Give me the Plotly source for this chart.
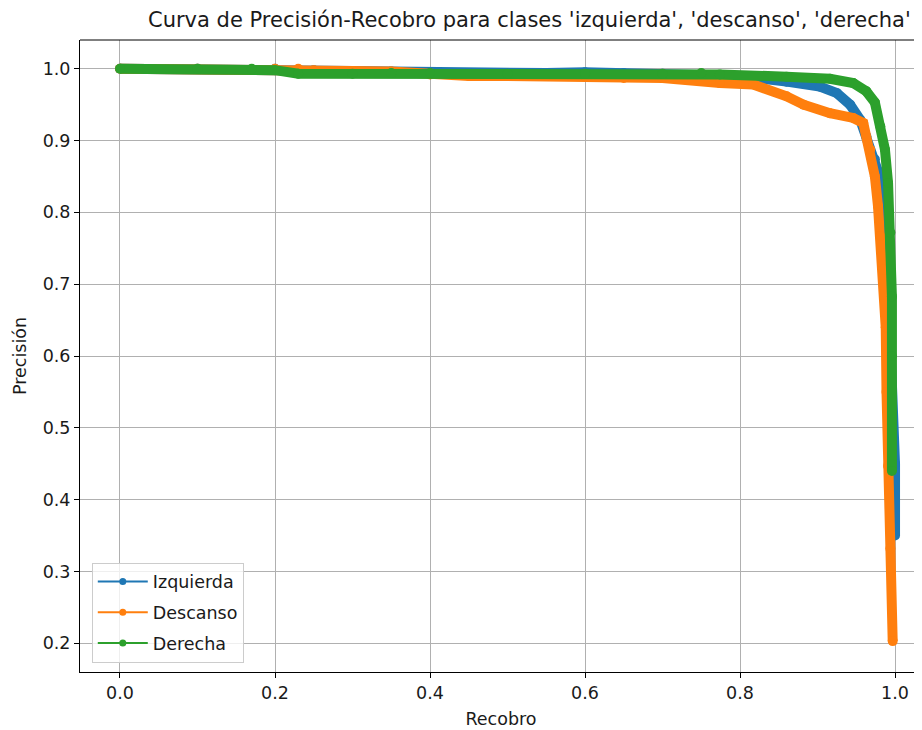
import plotly.graph_objects as go

# Izquierda (blue)
rec_izq = [0, 0.1, 0.2, 0.25, 0.3, 0.35, 0.4, 0.45, 0.5, 0.55, 0.6, 0.65, 0.7, 0.75, 0.8,
           0.86, 0.903, 0.925, 0.942, 0.955, 0.963, 0.974, 0.978, 0.988, 0.993, 0.997,
           1.0, 1.0]
prec_izq = [1.0, 1.0, 1.0, 0.998, 0.997, 0.996, 0.995, 0.994, 0.994, 0.994, 0.995, 0.994, 0.993,
            0.992, 0.99, 0.982, 0.975, 0.966, 0.95, 0.929, 0.906, 0.874, 0.857, 0.78, 0.65,
            0.50, 0.45, 0.35]

# Descanso (orange)
rec_des = [0, 0.1, 0.2, 0.23, 0.25, 0.3, 0.35, 0.4, 0.45, 0.5, 0.55, 0.6, 0.65, 0.7, 0.774,
           0.817, 0.86, 0.882, 0.916, 0.946, 0.959, 0.968, 0.974, 0.978, 0.981, 0.985, 0.988,
           0.989, 0.991, 0.994, 0.997]
prec_des = [1.0, 1.0, 1.0, 1.0, 0.998, 0.997, 0.996, 0.992, 0.99, 0.99, 0.99, 0.99, 0.987,
            0.987, 0.98, 0.978, 0.9616, 0.95, 0.938, 0.9315, 0.9245, 0.8875, 0.85, 0.809,
            0.767, 0.72, 0.64, 0.55, 0.447, 0.332, 0.203]

# Derecha (green)
rec_der = [0, 0.1, 0.17, 0.2, 0.23, 0.3, 0.35, 0.4, 0.5, 0.6, 0.7, 0.75, 0.774, 0.86, 0.916,
           0.946, 0.963, 0.974, 0.981, 0.987, 0.991, 0.994, 0.996, 0.996, 0.996]
prec_der = [1.0, 1.0, 1.0, 0.998, 0.993, 0.993, 0.994, 0.994, 0.993, 0.993, 0.993, 0.994, 0.992,
            0.989, 0.986, 0.98, 0.9685, 0.953, 0.92, 0.8875, 0.841, 0.772, 0.683, 0.60, 0.44]

series = [("Izquierda", rec_izq, prec_izq, "#1f77b4"),
          ("Descanso", rec_des, prec_des, "#ff7f0e"),
          ("Derecha", rec_der, prec_der, "#2ca02c")]

x_ticks = [0.0, 0.2, 0.4, 0.6, 0.8, 1.0]
y_ticks = [0.2, 0.3, 0.4, 0.5, 0.6, 0.7, 0.8, 0.9, 1.0]

fig = go.Figure()
for name, r, p, c in series:
    fig.add_trace(go.Scatter(x=r, y=p, mode="lines+markers", name=name, showlegend=False,
                             line=dict(color=c, width=10), marker=dict(color=c, size=10),
                             hoverinfo="skip"))
for name, r, p, c in series:
    fig.add_trace(go.Scatter(x=[None], y=[None], mode="lines+markers", name=name,
                             legendgroup=name,
                             line=dict(color=c, width=2), marker=dict(color=c, size=7)))

# The page body has an 8px default margin, so the figure is 8px smaller and offset.
W, H = 914, 722
L, T, B = 72, 32, 58
font = "DejaVu Sans, sans-serif"
tc = "#1a1a1a"
fig.update_layout(
    width=W, height=H,
    margin=dict(l=L, r=0, t=T, b=B, autoexpand=False),
    paper_bgcolor="white", plot_bgcolor="white",
    font=dict(family=font, size=17.5, color=tc),
    showlegend=True,
    legend=dict(x=0.014, y=0.015, xanchor="left", yanchor="bottom",
                bgcolor="rgba(255,255,255,0.8)", bordercolor="#cccccc", borderwidth=1,
                font=dict(size=17.5, color=tc), itemwidth=50, tracegroupgap=5),
    xaxis=dict(range=[-0.0516, 1.0348], tickvals=x_ticks, ticktext=[f"{v:.1f}" for v in x_ticks],
               showgrid=True, gridcolor="#b0b0b0", gridwidth=1, zeroline=False,
               showline=True, linecolor="black", linewidth=1, automargin=False,
               ticks="outside", ticklen=5, tickcolor="black",
               title=dict(text="Recobro", standoff=10, font=dict(size=17.5))),
    yaxis=dict(range=[0.16, 1.04], tickvals=y_ticks, ticktext=[f"{v:.1f}" for v in y_ticks],
               showgrid=True, gridcolor="#b0b0b0", gridwidth=1, zeroline=False,
               showline=True, linecolor="black", linewidth=1, automargin=False,
               ticks="outside", ticklen=5, tickcolor="black",
               title=dict(text="Precisión", standoff=11, font=dict(size=17.5))),
    shapes=[dict(type="line", xref="paper", yref="paper", x0=0, x1=1, y0=1, y1=1,
                 line=dict(color="black", width=1))],
    annotations=[dict(text="Curva de Precisión-Recobro para clases 'izquierda', 'descanso', 'derecha'",
                      xref="paper", yref="paper", x=(521 - L) / (W - L), y=1, yshift=6,
                      xanchor="center", yanchor="bottom", showarrow=False,
                      font=dict(size=21, family=font, color=tc))],
)
fig.write_html("out.html")
